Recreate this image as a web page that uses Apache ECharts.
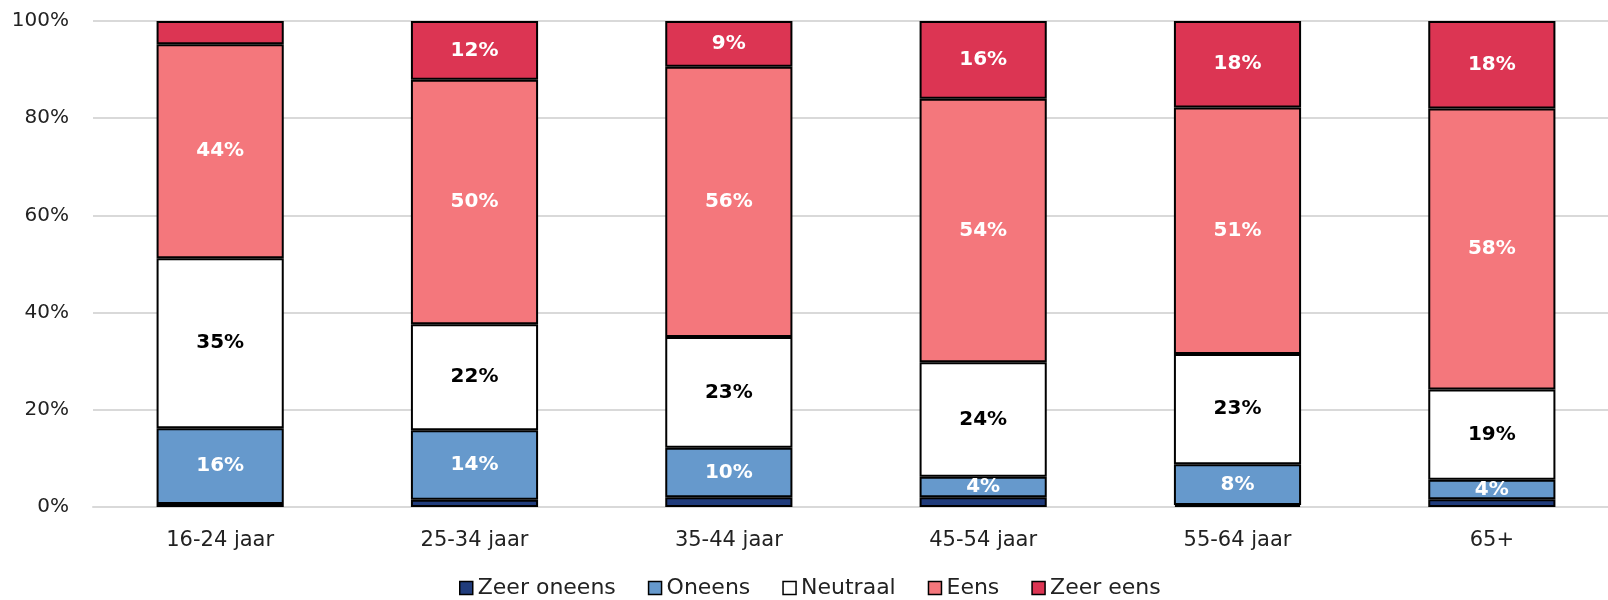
<!DOCTYPE html>
<html>
<head>
<meta charset="utf-8">
<script src="https://cdn.jsdelivr.net/npm/echarts@6/dist/echarts.min.js"></script>
<style>
  html, body { margin: 0; padding: 0; background: #fff; overflow: hidden; }
  /* plot area runs past the right edge, like the original */
  #ch1 { width: 1620px; height: 600px; }
</style>
</head>
<body>
<div id="ch1"></div>
<script>
var categories = ['16-24 jaar', '25-34 jaar', '35-44 jaar', '45-54 jaar', '55-64 jaar', '65+'];
var seriesNames = ['Zeer oneens', 'Oneens', 'Neutraal', 'Eens', 'Zeer eens'];
var zeerOneens = [0.6, 1.5, 2.0, 2.0, 0.4, 1.6];
var oneens = [15.6, 14.3, 10.2, 4.2, 8.4, 4.0];
var neutraal = [35.0, 21.8, 22.8, 23.6, 22.7, 18.6];
var eens = [44.0, 50.3, 55.6, 54.2, 50.7, 57.8];
var zeerEens = [4.8, 12.1, 9.4, 16.0, 17.8, 18.0];
var yTicks = ['0%', '20%', '40%', '60%', '80%', '100%'];
// labels that are left out in the original
var hideLabel = { 'Zeer eens': [0] };

var fontName = 'DejaVu Sans';
var colors = ['#203C7C', '#6699CC', '#FFFFFF', '#F4777C', '#DC3553'];
var labelColors = ['#fff', '#fff', '#000', '#fff', '#fff'];
var values = [zeerOneens, oneens, neutraal, eens, zeerEens];

window.onload = function() {
  var ch1 = echarts.init(document.getElementById('ch1'));

  var series = seriesNames.map(function(name, i) {
    var hidden = hideLabel[name] || [];
    return {
      name: name,
      type: 'bar',
      stack: 'total',
      barWidth: '50%',
      itemStyle: {
        color: colors[i],
        borderColor: '#000',
        borderWidth: 2
      },
      label: {
        show: i > 0,
        position: 'inside',
        color: labelColors[i],
        fontFamily: fontName,
        fontWeight: 'bold',
        fontSize: 20,
        formatter: function(p) {
          if (hidden.indexOf(p.dataIndex) >= 0) return '';
          return Math.round(p.value) + '%';
        }
      },
      data: values[i]
    };
  });

  var op1 = {
    animation: false,
    legend: {
      bottom: -4,
      left: 454,
      icon: 'rect',
      itemWidth: 13,
      itemHeight: 13,
      itemGap: 32,
      itemStyle: { borderColor: '#000', borderWidth: 1.5 },
      textStyle: { fontFamily: fontName, fontSize: 22, color: '#222', padding: [0, 0, 0, 0] },
      data: seriesNames
    },
    grid: {
      left: 93,
      right: 1,
      top: 21,
      bottom: 93
    },
    xAxis: {
      type: 'category',
      data: categories,
      axisLine: { lineStyle: { color: '#d9d9d9', width: 2 } },
      axisTick: { show: false },
      axisLabel: { fontFamily: fontName, fontSize: 21, color: '#222', margin: 23 }
    },
    yAxis: {
      type: 'value',
      min: 0,
      max: 100,
      interval: 20,
      axisLine: { show: false },
      axisTick: { show: false },
      splitLine: { lineStyle: { color: '#d9d9d9', width: 2 } },
      axisLabel: {
        fontFamily: fontName,
        fontSize: 20,
        color: '#222',
        margin: 24,
        formatter: function(v) { return yTicks[v / 20]; }
      }
    },
    series: series
  };

  ch1.setOption(op1);
};
</script>
</body>
</html>
